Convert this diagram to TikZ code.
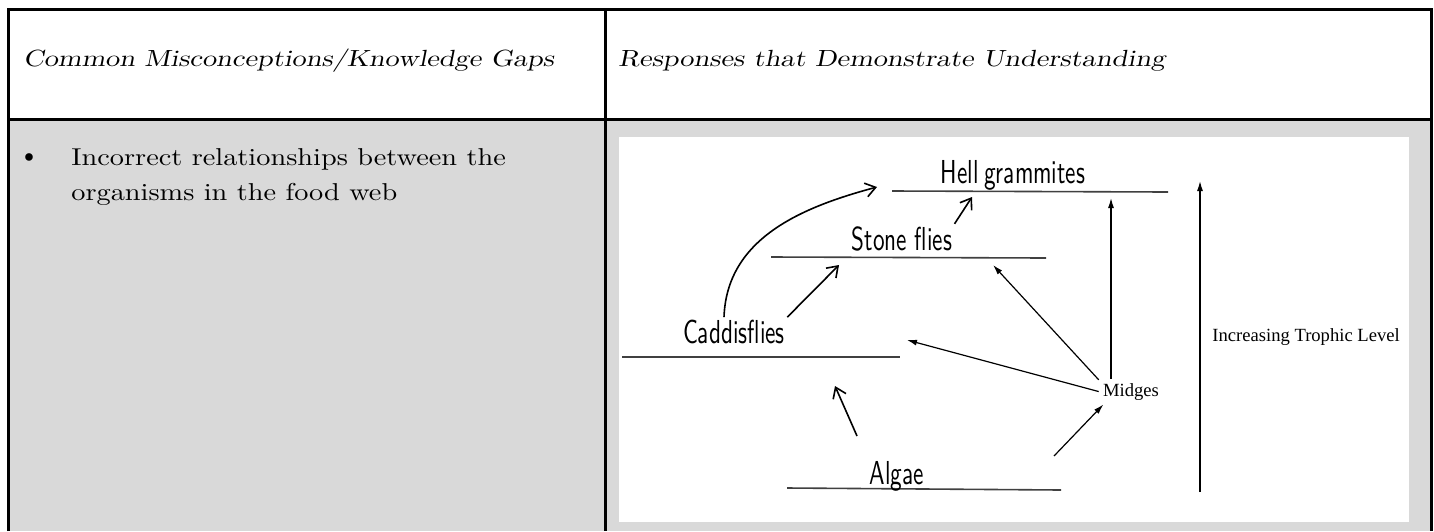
\documentclass[tikz,border=0pt]{standalone}
\usepackage{fontspec}
\usepackage{tikz}
\usetikzlibrary{arrows.meta}

\newfontfamily\headfont[FakeStretch=1.21,FakeSlant=0.2]{lmroman10-regular.otf}
\newfontfamily\bodyfont[FakeStretch=1.16]{lmroman10-regular.otf}
\newfontfamily\handfont[FakeStretch=0.7]{lmsans10-regular.otf}
\newfontfamily\printfont{Liberation Serif}
\definecolor{cellgray}{HTML}{D9D9D9}

\begin{document}
\begin{tikzpicture}[x=0.5pt, y=-0.5pt,
    head/.style={anchor=base west, inner sep=0pt, font=\headfont\fontsize{11.7}{14}\selectfont},
    body/.style={anchor=base west, inner sep=0pt, font=\bodyfont\fontsize{12.2}{15}\selectfont},
    hand/.style={anchor=base, inner sep=1pt, font=\handfont\fontsize{16.6}{19}\selectfont},
    print/.style={inner sep=2pt, font=\printfont\fontsize{9.3}{11}\selectfont},
    level/.style={line width=0.8pt, black!75},
    handarrow/.style={line width=0.8pt, -{Straight Barb[length=5pt,width=7pt]}},
    printarrow/.style={line width=0.6pt, -{Latex[length=5pt,width=3pt]}}]

    \useasboundingbox (0,0) rectangle (1434,531);

    % Table
    \fill[cellgray] (8,119) rectangle (1431,531);
    \draw[line width=1.5pt] (8,531) -- (8,9) -- (1431,9) -- (1431,531);
    \draw[line width=1.5pt] (8,119) -- (1431,119);
    \draw[line width=1.5pt] (605,9) -- (605,531);

    % Header row
    \node[head] (gaps) at (23,66) {Common Misconceptions/Knowledge Gaps};
    \node[head] (resp) at (618,66) {Responses that Demonstrate Understanding};

    % Left cell
    \node[body, anchor=base, font=\fontsize{17}{17}\selectfont] (bullet) at (29,166) {\textbullet};
    \node[body] (gap1) at (71,165) {Incorrect relationships between the};
    \node[body] (gap2) at (71,200) {organisms in the food web};

    % Right cell: the scanned food web
    \fill[white] (619,137) rectangle (1409,522);

    % Hellgrammites
    \draw[level] (892,191) -- (1168,192);
    \node[hand] (hellg) at (1013,183) {Hell\,grammites};

    % Stoneflies
    \draw[level] (771,257) -- (1046,258);
    \node[hand] (stonef) at (902,250) {Stone flies};

    % Caddisflies
    \draw[level] (622,357) -- (900,357);
    \node[hand] (caddisf) at (734,343) {Caddisflies};

    % Algae
    \draw[level] (787,488) -- (1061,490);
    \node[hand] (algae) at (897,484) {Algae};

    % Midges
    \node[print, anchor=base] (midges) at (1131,396) {Midges};

    \coordinate (hellg-in) at (1111,198);
    \coordinate (stonef-in) at (993,265);
    \coordinate (caddisf-in) at (907,340);
    \coordinate (algae-out) at (1054,456);
    \draw[printarrow] (midges.north -| hellg-in) -- (hellg-in);
    \draw[printarrow] (midges.160) -- (stonef-in);
    \draw[printarrow] (midges.west) -- (caddisf-in);
    \draw[printarrow] (algae-out) -- (midges.205);

    % handwritten arrows
    \coordinate (algae-up) at (857,436);
    \coordinate (caddisf-low) at (835,386);
    \coordinate (stonef-low) at (839,265);
    \coordinate (hellg-left) at (877,187);
    \coordinate (hellg-low) at (972,197);
    \draw[handarrow] (algae-up) -- (caddisf-low);
    \draw[handarrow] (caddisf.north east) -- (stonef-low);
    \draw[handarrow] ([xshift=-5pt]caddisf.north) to[out=88, in=195] (hellg-left);
    \draw[handarrow] (stonef.north east) -- (hellg-low);

    % Trophic level
    \coordinate (trophic-low) at (1200,492);
    \coordinate (trophic-high) at (1200,181);
    \draw[printarrow] (trophic-low) -- (trophic-high);
    \node[print, anchor=west] (trophic) at (1208,337) {Increasing Trophic Level};
\end{tikzpicture}
\end{document}
